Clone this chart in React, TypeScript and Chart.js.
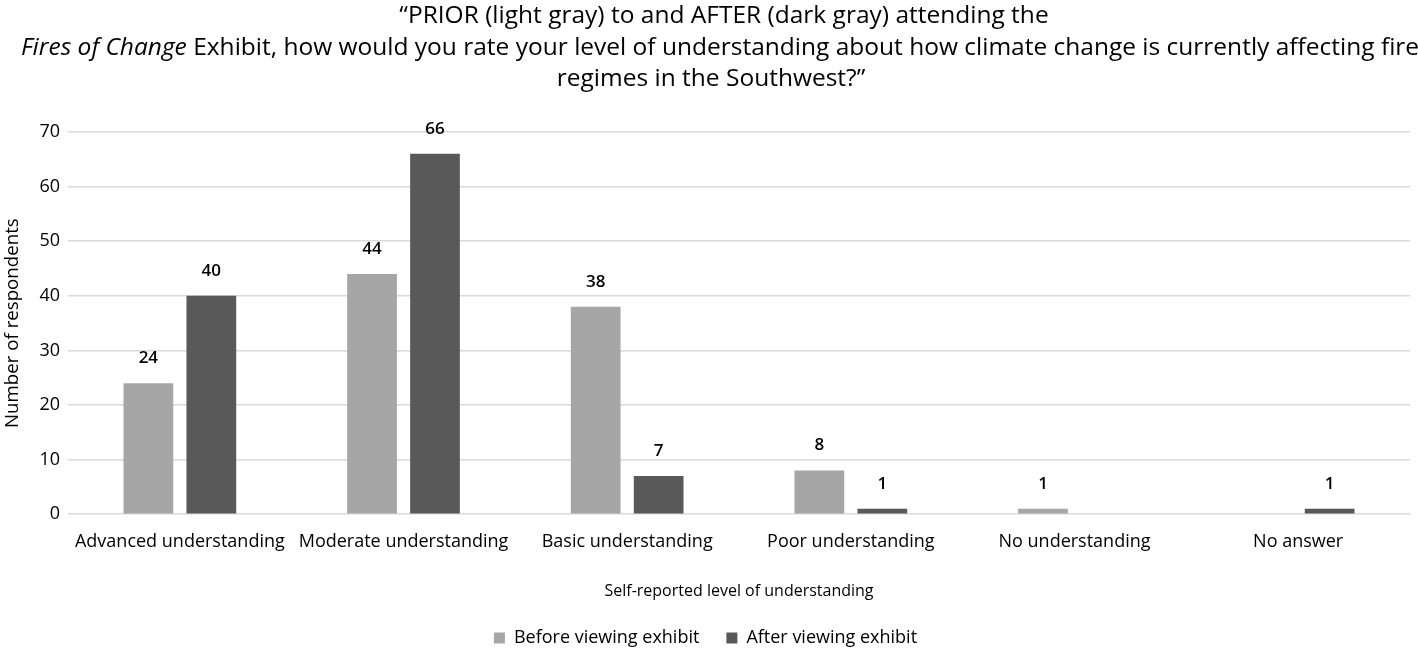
import React, { useEffect, useRef } from "react";
import { Chart, registerables } from "chart.js";

Chart.register(...registerables);

const categories = [
  "Advanced understanding",
  "Moderate understanding",
  "Basic understanding",
  "Poor understanding",
  "No understanding",
  "No answer",
];
const beforeValues: (number | null)[] = [24, 44, 38, 8, 1, null];
const afterValues: (number | null)[] = [40, 66, 7, 1, null, 1];
const yTicks = [0, 10, 20, 30, 40, 50, 60, 70];
const titleLine1 = "\u201CPRIOR (light gray) to and AFTER (dark gray) attending the";
const titleLine2Italic = "Fires of Change";
const titleLine2Rest = " Exhibit, how would you rate your level of understanding about how climate change is currently affecting fire";
const titleLine3 = "regimes in the Southwest?\u201D";

const FONT = "'Open Sans', sans-serif";

const titlePlugin = {
  id: "customTitle",
  afterDraw(chart: any) {
    const ctx = chart.ctx;
    const cx = chart.width / 2;
    ctx.save();
    ctx.fillStyle = "#000";
    ctx.textBaseline = "middle";
    ctx.textAlign = "left";
    const size = 24.5;
    ctx.font = `${size}px ${FONT}`;
    let w = ctx.measureText(titleLine1).width;
    ctx.fillText(titleLine1, cx + 15 - w / 2, 16);
    ctx.font = `italic ${size}px ${FONT}`;
    const wi = ctx.measureText(titleLine2Italic).width;
    ctx.font = `${size}px ${FONT}`;
    const wr = ctx.measureText(titleLine2Rest).width;
    const start = cx + 11 - (wi + wr) / 2;
    ctx.font = `italic ${size}px ${FONT}`;
    ctx.fillText(titleLine2Italic, start, 48);
    ctx.font = `${size}px ${FONT}`;
    ctx.fillText(titleLine2Rest, start + wi, 48);
    w = ctx.measureText(titleLine3).width;
    ctx.fillText(titleLine3, cx + 2 - w / 2, 79);
    ctx.restore();
  },
};

const labelPlugin = {
  id: "barLabels",
  afterDatasetsDraw(chart: any) {
    const ctx = chart.ctx;
    ctx.save();
    ctx.fillStyle = "#000";
    ctx.font = `600 17px ${FONT}`;
    ctx.textAlign = "center";
    ctx.textBaseline = "middle";
    chart.data.datasets.forEach((ds: any, i: number) => {
      const meta = chart.getDatasetMeta(i);
      meta.data.forEach((bar: any, j: number) => {
        const v = ds.data[j];
        if (v === null || v === undefined) return;
        ctx.fillText(String(v), bar.x, bar.y - 25);
      });
    });
    ctx.restore();
  },
};

export default function App() {
  const ref = useRef<HTMLCanvasElement>(null);
  useEffect(() => {
    document.body.style.margin = "0";
    const chart = new Chart(ref.current!, {
      type: "bar",
      data: {
        labels: categories,
        datasets: [
          {
            label: "Before viewing exhibit",
            data: beforeValues,
            backgroundColor: "#a6a6a6",
            categoryPercentage: 0.563,
            barPercentage: 0.79,
          },
          {
            label: "After viewing exhibit",
            data: afterValues,
            backgroundColor: "#595959",
            categoryPercentage: 0.563,
            barPercentage: 0.79,
          },
        ],
      },
      options: {
        animation: false,
        responsive: false,
        layout: { padding: { top: 132, right: 8, left: 1, bottom: -9 } },
        plugins: {
          title: { display: false },
          tooltip: { enabled: false },
          legend: {
            position: "bottom",
            labels: {
              boxWidth: 11,
              boxHeight: 11,
              color: "#000",
              font: { family: FONT, size: 18 },
              padding: 27,
            },
          },
        },
        scales: {
          x: {
            grid: { display: false },
            border: { display: false },
            ticks: { color: "#000", font: { family: FONT, size: 18 }, maxRotation: 0, autoSkip: false, padding: 9 },
            title: {
              display: true,
              text: "Self-reported level of understanding",
              color: "#000",
              font: { family: FONT, size: 16 },
              padding: { top: 20, bottom: 1 },
            },
          },
          y: {
            min: 0,
            max: 70,
            afterBuildTicks(axis: any) {
              axis.ticks = yTicks.map((v) => ({ value: v }));
            },
            grid: { color: "#d9d9d9", lineWidth: 1.5, drawTicks: false },
            border: { display: false },
            ticks: { color: "#000", font: { family: FONT, size: 18 }, padding: 8 },
            title: {
              display: true,
              text: "Number of respondents",
              color: "#000",
              font: { family: FONT, size: 18.7 },
              padding: { top: 0, bottom: 8 },
            },
          },
        },
      },
      plugins: [titlePlugin, labelPlugin],
    });
    return () => chart.destroy();
  }, []);
  return (
    <div style={{ width: 1418, height: 648 }}>
      <canvas ref={ref} width={1418} height={648} style={{ display: "block" }} />
    </div>
  );
}
